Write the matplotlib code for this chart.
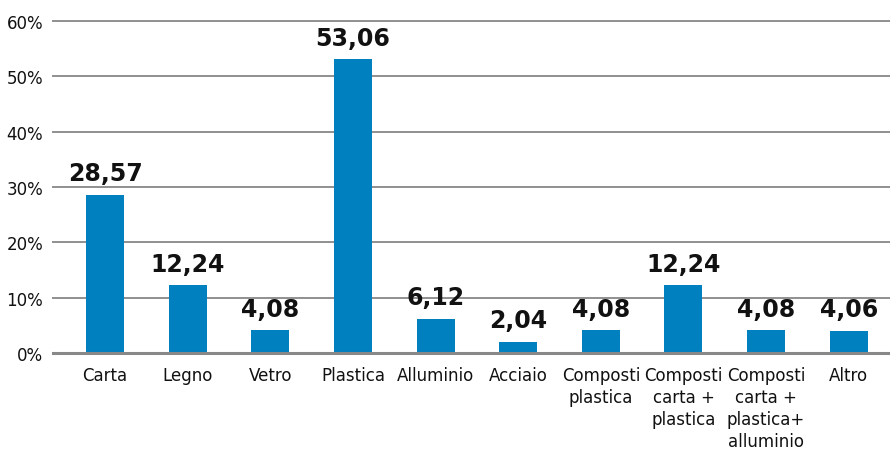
import numpy as np
import matplotlib.pyplot as plt

# dati
categorie = ["Carta", "Legno", "Vetro", "Plastica", "Alluminio", "Acciaio",
             "Composti\nplastica", "Composti\ncarta +\nplastica",
             "Composti\ncarta +\nplastica+\nalluminio", "Altro"]
valori = [28.57, 12.24, 4.08, 53.06, 6.12, 2.04, 4.08, 12.24, 4.08, 4.06]
etichette = ["28,57", "12,24", "4,08", "53,06", "6,12", "2,04", "4,08", "12,24", "4,08", "4,06"]
yticks = [0, 10, 20, 30, 40, 50, 60]

plt.rcParams['font.family'] = ['DejaVu Sans']

fig = plt.figure(figsize=(8.9, 4.52), dpi=100)
ax = fig.add_axes([0.0596, 0.2168, 0.9404, 0.7345])

x = np.arange(len(categorie))
bars = ax.bar(x, valori, width=0.46, color="#0080BF", zorder=3)

for xi, v, lab in zip(x, valori, etichette):
    ax.annotate(lab, (xi, v), xytext=(0, 7), textcoords="offset points",
                ha="center", va="bottom", fontsize=17, fontweight="bold", color="#111111")

ax.set_xlim(-0.63, 9.5)
ax.set_ylim(0, 60)
ax.set_yticks(yticks)
ax.set_yticklabels([f"{t}%" for t in yticks])
ax.set_xticks(x)
ax.set_xticklabels(categorie, linespacing=1.3)

ax.grid(axis="y", color="#8f8f8f", linewidth=1.4, zorder=0)
for gl in ax.yaxis.get_gridlines():
    gl.set_clip_on(False)
ax.tick_params(axis="both", length=0, labelsize=12, colors="#111111")
ax.tick_params(axis="x", pad=9)
ax.tick_params(axis="y", pad=7)
for s in ["top", "right", "left"]:
    ax.spines[s].set_visible(False)
ax.spines["bottom"].set_color("#888888")
ax.spines["bottom"].set_linewidth(2.2)
ax.spines["bottom"].set_zorder(4)

fig.savefig("out.png", dpi=100)
